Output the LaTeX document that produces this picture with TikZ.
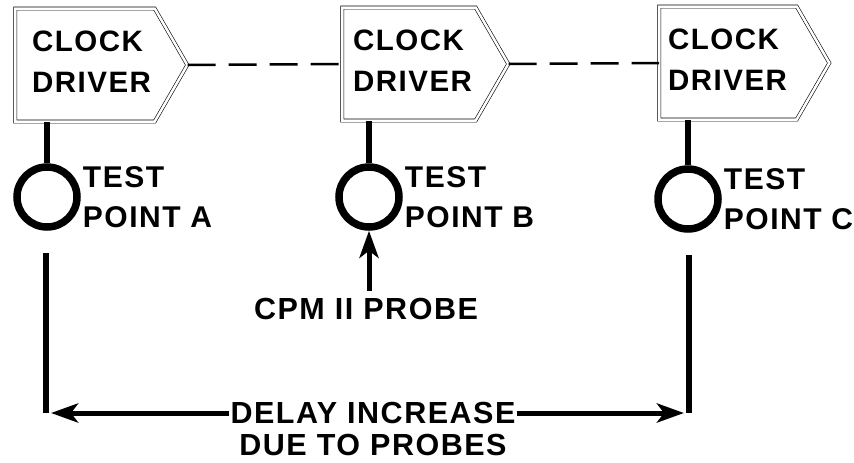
\documentclass[tikz,border=0pt]{standalone}
\usepackage{fontspec}
\setmainfont{Liberation Sans}[LetterSpace=5]
\usetikzlibrary{positioning,shapes.symbols,arrows.meta}

\tikzset{
  clockbox/.style={signal, signal to=east, signal pointer angle=120,
    draw, double, double distance=2.5pt, line width=0.6pt,
    minimum width=172pt, minimum height=113pt, inner sep=0pt},
  boxtext/.style={align=left, inner sep=0pt, font=\bfseries\fontsize{29.5}{41}\selectfont},
  tplabel/.style={align=left, inner sep=0pt, font=\bfseries\fontsize{30}{40}\selectfont},
  bigtext/.style={inner sep=1pt, font=\bfseries\fontsize{30.5}{32}\selectfont},
  testpt/.style={circle, draw, line width=7.5pt, minimum size=60pt, inner sep=0pt},
  stem/.style={line width=6pt},
  dashlink/.style={line width=2.5pt, dash pattern=on 28pt off 13pt},
  probearrow/.style={line width=5pt, -{Stealth[length=27pt,width=19pt,inset=7pt]}}
}

\begin{document}
\begin{tikzpicture}[x=1pt, y=-1pt]
\useasboundingbox (0,0) rectangle (854,463);

% clock drivers
\node[clockbox] (drvA) at (85,65) {};
\node[clockbox, minimum width=166pt] (drvB) at (409,64) {};
\node[clockbox, minimum width=170pt] (drvC) at (728,63) {};
\node[boxtext, right=17pt of drvA.west, yshift=3pt] {CLOCK\\DRIVER};
\node[boxtext, right=11pt of drvB.west, yshift=3pt] {CLOCK\\DRIVER};
\node[boxtext, right=9pt of drvC.west, yshift=3pt] {CLOCK\\DRIVER};
\draw[dashlink] (drvA.east) -- (drvB.west);
\draw[dashlink] (drvB.east) -- (drvC.west);

% test points
\node[testpt] (tpA) at (47,197) {};
\node[testpt] (tpB) at (369,197) {};
\node[testpt] (tpC) at (688,199) {};
\foreach \t/\d in {A/drvA, B/drvB, C/drvC}
  \draw[stem] (tp\t.north) -- (tp\t.north |- \d.south);
\node[tplabel, right=2pt of tpA] {TEST\\POINT A};
\node[tplabel, right=2pt of tpB] {TEST\\POINT B};
\node[tplabel, right=2pt of tpC] {TEST\\POINT C};

% probe
\node[bigtext] (probe) at (366,309) {CPM II PROBE};
\draw[probearrow, shorten <=6pt] (probe.north -| tpB) -- (tpB.south);

% delay
\coordinate (legAtop) at (46,253);
\coordinate (legAbot) at (46,413);
\coordinate (legCtop) at (689,255);
\coordinate (legCbot) at (689,413);
\draw[stem] (legAtop) -- (legAbot);
\draw[stem] (legCtop) -- (legCbot);
\node[bigtext] (delay) at (373,413) {DELAY INCREASE};
\node[bigtext, below=8pt of delay] (delay2) {DUE TO PROBES};
\draw[probearrow, shorten >=5pt] (delay.west) -- (legAbot);
\draw[probearrow, shorten >=5pt] (delay.east) -- (legCbot);
\end{tikzpicture}
\end{document}
